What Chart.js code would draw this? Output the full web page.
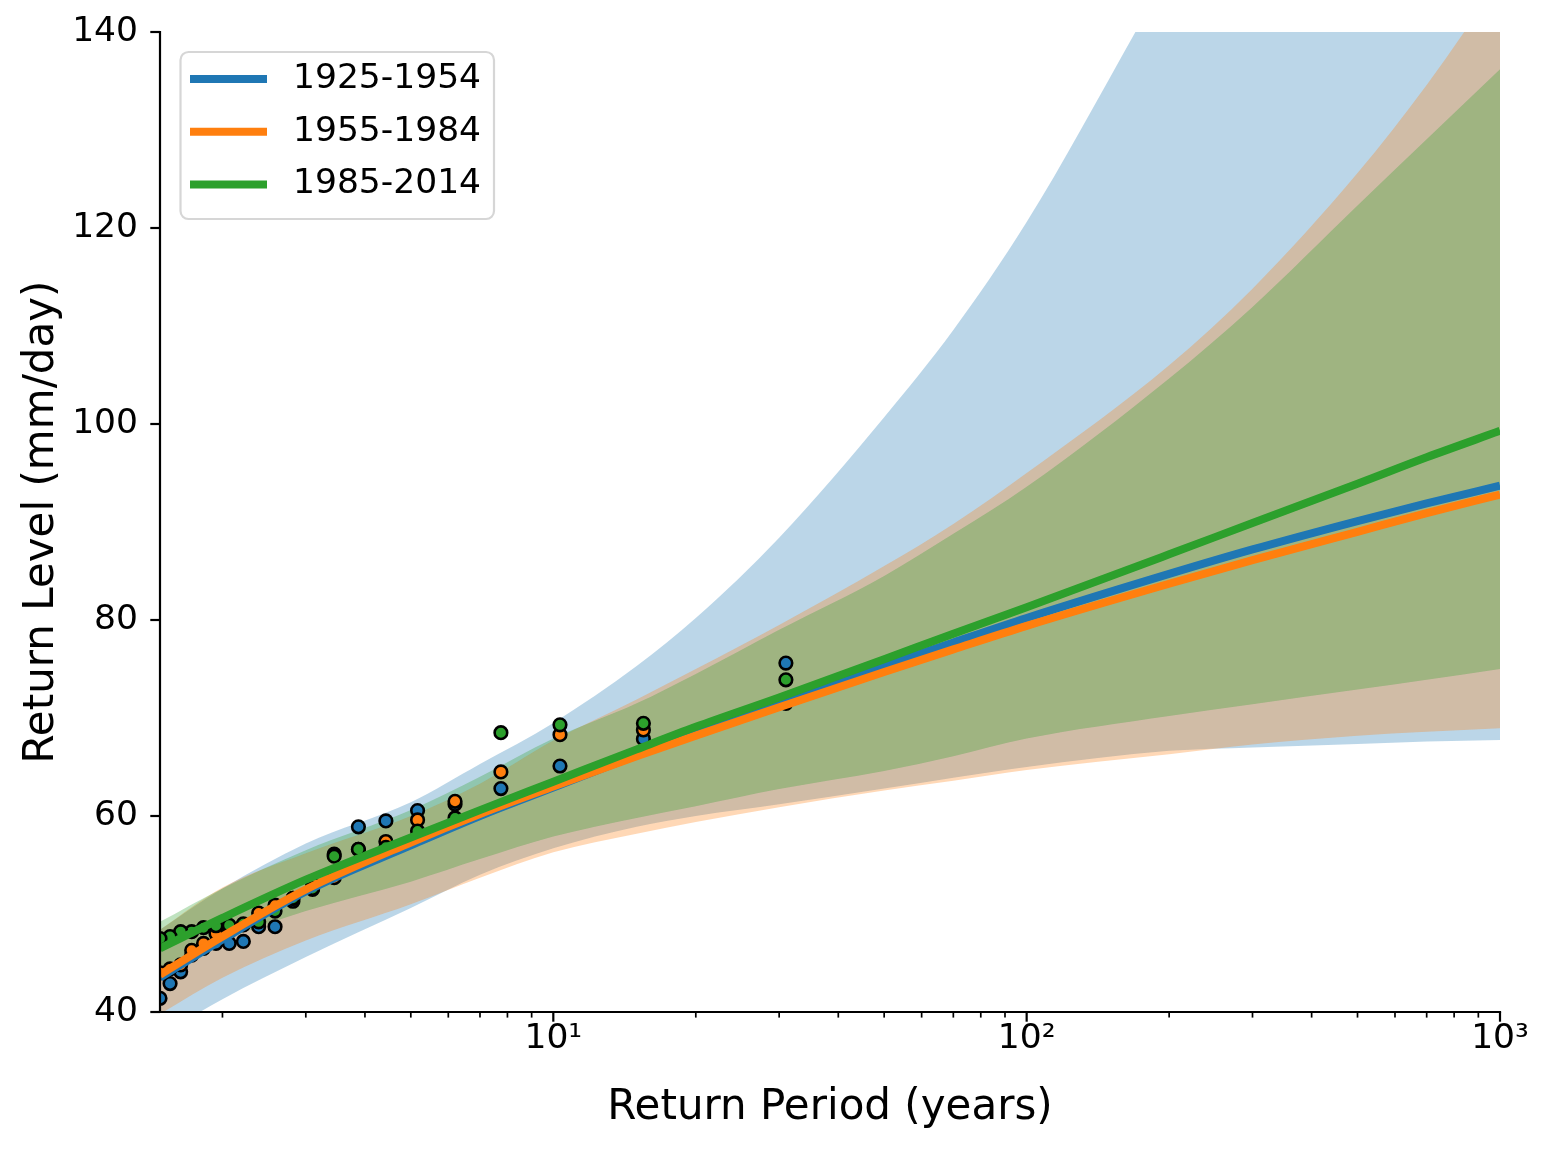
<!DOCTYPE html>
<html>
<head>
<meta charset="utf-8">
<script src="https://cdn.jsdelivr.net/npm/chart.js@4.4.1/dist/chart.umd.min.js"></script>
<style>
  body { margin: 0; background: #fff; }
  #wrap { width: 1550px; height: 1150px; }
</style>
</head>
<body>
<div id="wrap"><canvas id="grafico" width="1550" height="1150"></canvas></div>
<script>
// return periods (years) where the fitted curves and bands were read
const periods = [1.476, 2, 3, 5, 7, 10, 15, 20, 30, 50, 70, 100, 200, 300, 500, 700, 1000];

// fitted return level curves (mm/day)
const line1925 = [43.5, 47.4, 52.3, 57.0, 60.0, 62.9, 66.2, 68.4, 71.5, 75.3, 77.7, 80.2, 84.7, 87.2, 90.1, 91.9, 93.7];
const line1955 = [43.8, 47.7, 52.5, 57.3, 60.2, 63.0, 66.1, 68.2, 71.1, 74.7, 77.0, 79.4, 83.7, 86.1, 89.0, 90.9, 92.8];
const line1985 = [46.5, 49.6, 53.5, 57.8, 60.6, 63.5, 66.8, 69.1, 72.1, 76.0, 78.6, 81.3, 86.7, 89.9, 93.9, 96.6, 99.3];

// confidence bands
const low1925 = [37.6, 41.3, 45.6, 50.6, 54.0, 56.7, 58.9, 60.0, 61.2, 62.8, 63.9, 65.0, 66.65, 67.0, 67.35, 67.6, 67.76];
const high1925 = [48.4, 52.6, 57.2, 61.4, 65.3, 69.5, 75.3, 80.2, 88.4, 100.7, 109.6, 120.6, 146, 160, 177, 189, 201];
const low1955 = [39.8, 43.5, 47.3, 51.0, 53.7, 56.3, 58.2, 59.4, 60.9, 62.6, 63.6, 64.7, 66.3, 67.3, 68.2, 68.6, 68.95];
const high1955 = [48.4, 52.7, 56.2, 60.0, 63.3, 67.7, 71.9, 75.0, 79.5, 85.5, 89.8, 95.0, 106.0, 113.8, 125.6, 134.6, 145.3];
const low1985 = [44.6, 47.3, 50.3, 53.3, 55.6, 57.9, 59.8, 61.0, 62.75, 64.6, 66.1, 67.9, 70.2, 71.4, 72.9, 73.9, 75.0];
const high1985 = [49.2, 52.6, 56.5, 60.6, 64.0, 67.9, 71.5, 74.5, 79.0, 84.5, 88.8, 93.6, 104.65, 111.95, 122.3, 129.05, 136.2];

// empirical points (plotting positions) for each period
const pointPeriods = [31, 15.5, 10.33, 7.75, 6.2, 5.167, 4.429, 3.875, 3.444, 3.1, 2.818, 2.583, 2.385, 2.214, 2.067, 1.938, 1.824, 1.722, 1.632, 1.55, 1.476];
const obs1925 = [75.6, 67.86, 65.1, 62.8, 61.2, 60.55, 59.5, 58.9, 56.1, 52.5, 51.3, 48.7, 48.7, 47.2, 47.0, 47.0, 46.5, 45.8, 44.1, 42.9, 41.4];
const obs1955 = [71.5, 68.78, 68.3, 64.5, 61.5, 59.6, 57.4, 56.6, 53.7, 53.1, 51.6, 50.9, 50.1, 48.9, 48.2, 48.0, 47.0, 46.3, 44.8, 44.4, 44.0];
const obs1985 = [73.9, 69.46, 69.3, 68.5, 59.8, 58.47, 56.8, 56.6, 55.9, 52.6, 51.6, 50.3, 49.2, 49.0, 48.85, 48.8, 48.6, 48.2, 48.2, 47.7, 47.5];

// axis ticks
const yTicks = [40, 60, 80, 100, 120, 140];
const xMajor = [10, 100, 1000];
const xMinor = [2, 3, 4, 5, 6, 7, 8, 9, 20, 30, 40, 50, 60, 70, 80, 90, 200, 300, 400, 500, 600, 700, 800, 900];
const xLabels = { 10: '10¹', 100: '10²', 1000: '10³' };

const labels = ['1925-1954', '1955-1984', '1985-2014'];
const colors = ['#1f77b4', '#ff7f0e', '#2ca02c'];
const bandColors = ['rgba(31,119,180,0.3)', 'rgba(255,127,14,0.3)', 'rgba(44,160,44,0.3)'];

function pts(xs, ys) {
  return xs.map((x, i) => ({ x: x, y: ys[i] }));
}

const lows = [low1925, low1955, low1985];
const highs = [high1925, high1955, high1985];
const obs = [obs1925, obs1955, obs1985];
const lines = [line1925, line1955, line1985];

const datasets = [];
// bands: lower edge then upper edge filled down to it
for (let i = 0; i < 3; i++) {
  datasets.push({
    data: pts(periods, lows[i]), borderWidth: 0, pointRadius: 0, fill: false,
    cubicInterpolationMode: 'monotone', order: 22 - 2 * i, clip: 0
  });
  datasets.push({
    data: pts(periods, highs[i]), borderWidth: 0, pointRadius: 0, fill: '-1',
    backgroundColor: bandColors[i], cubicInterpolationMode: 'monotone', order: 21 - 2 * i, clip: 0
  });
}
// scatter points
for (let i = 0; i < 3; i++) {
  datasets.push({
    type: 'scatter', data: pts(pointPeriods, obs[i]), showLine: false,
    pointRadius: 6.3, borderWidth: 2.6, borderColor: '#000', backgroundColor: colors[i],
    order: 12 - i, clip: 0
  });
}
// fitted curves
for (let i = 0; i < 3; i++) {
  datasets.push({
    label: labels[i], data: pts(periods, lines[i]), borderColor: colors[i], borderWidth: 8,
    pointRadius: 0, fill: false, cubicInterpolationMode: 'monotone', order: 3 - i, clip: 0
  });
}

// spines, tick marks and legend box, like matplotlib
const axisPlugin = {
  id: 'axisPlugin',
  afterDatasetsDraw(chart) {
    const { ctx, chartArea: a, scales: { x, y } } = chart;
    ctx.save();
    ctx.strokeStyle = '#000';
    ctx.lineWidth = 2.2;
    ctx.lineCap = 'square';
    ctx.beginPath();
    ctx.moveTo(a.left, a.top);
    ctx.lineTo(a.left, a.bottom);
    ctx.lineTo(a.right, a.bottom);
    ctx.stroke();
    ctx.lineCap = 'butt';
    xMajor.forEach(v => {
      const px = x.getPixelForValue(v);
      ctx.beginPath(); ctx.moveTo(px, a.bottom); ctx.lineTo(px, a.bottom + 9.7); ctx.stroke();
    });
    yTicks.forEach(v => {
      const py = y.getPixelForValue(v);
      ctx.beginPath(); ctx.moveTo(a.left - 9.7, py); ctx.lineTo(a.left, py); ctx.stroke();
    });
    ctx.lineWidth = 1.7;
    xMinor.forEach(v => {
      const px = x.getPixelForValue(v);
      ctx.beginPath(); ctx.moveTo(px, a.bottom); ctx.lineTo(px, a.bottom + 5.6); ctx.stroke();
    });
    ctx.restore();
  },
  afterDraw(chart) {
    const ctx = chart.ctx;
    ctx.save();
    ctx.beginPath();
    ctx.roundRect(180.5, 52, 313.5, 167, 8);
    ctx.fillStyle = 'rgba(255,255,255,0.8)';
    ctx.fill();
    ctx.strokeStyle = '#d6d6d6';
    ctx.lineWidth = 2.2;
    ctx.stroke();
    const lineSets = chart.data.datasets.filter(d => d.label);
    lineSets.forEach((d, i) => {
      const yy = 79 + i * 52.7;
      ctx.strokeStyle = d.borderColor;
      ctx.lineWidth = 8;
      ctx.beginPath(); ctx.moveTo(190, yy); ctx.lineTo(267, yy); ctx.stroke();
      ctx.fillStyle = '#000';
      ctx.font = '34.5px "DejaVu Sans"';
      ctx.textBaseline = 'middle';
      ctx.fillText(d.label, 293, yy);
    });
    ctx.restore();
  }
};

Chart.defaults.font.family = '"DejaVu Sans"';
Chart.defaults.color = '#000';

new Chart(document.getElementById('grafico'), {
  type: 'line',
  data: { datasets: datasets },
  options: {
    responsive: false,
    animation: false,
    events: [],
    layout: { padding: { left: 0, right: 50, top: 32, bottom: 0 } },
    plugins: { legend: { display: false }, tooltip: { enabled: false } },
    scales: {
      x: {
        type: 'logarithmic', min: 1.476, max: 1000,
        grid: { display: false, drawTicks: false },
        border: { display: false },
        afterBuildTicks: scale => { scale.ticks = xMinor.concat(xMajor).sort((a, b) => a - b).map(v => ({ value: v })); },
        afterFit: scale => { scale.height = 138; scale.paddingLeft = 0; scale.paddingRight = 0; },
        ticks: {
          autoSkip: false, maxRotation: 0, padding: 6, color: '#000', font: { size: 34.5 },
          callback: v => xLabels[v] || ''
        },
        title: { display: true, text: 'Return Period (years)', color: '#000', font: { size: 42 }, padding: { top: 0, bottom: 17 } }
      },
      y: {
        min: 40, max: 140,
        grid: { display: false, drawTicks: false },
        border: { display: false },
        afterBuildTicks: scale => { scale.ticks = yTicks.map(v => ({ value: v })); },
        afterFit: scale => { scale.width = 160; scale.paddingTop = 0; scale.paddingBottom = 0; },
        ticks: { padding: 22, color: '#000', font: { size: 34.5 } },
        title: { display: true, text: 'Return Level (mm/day)', color: '#000', font: { size: 42 }, padding: { top: 17, bottom: 0 } }
      }
    }
  },
  plugins: [axisPlugin]
});
</script>
</body>
</html>
